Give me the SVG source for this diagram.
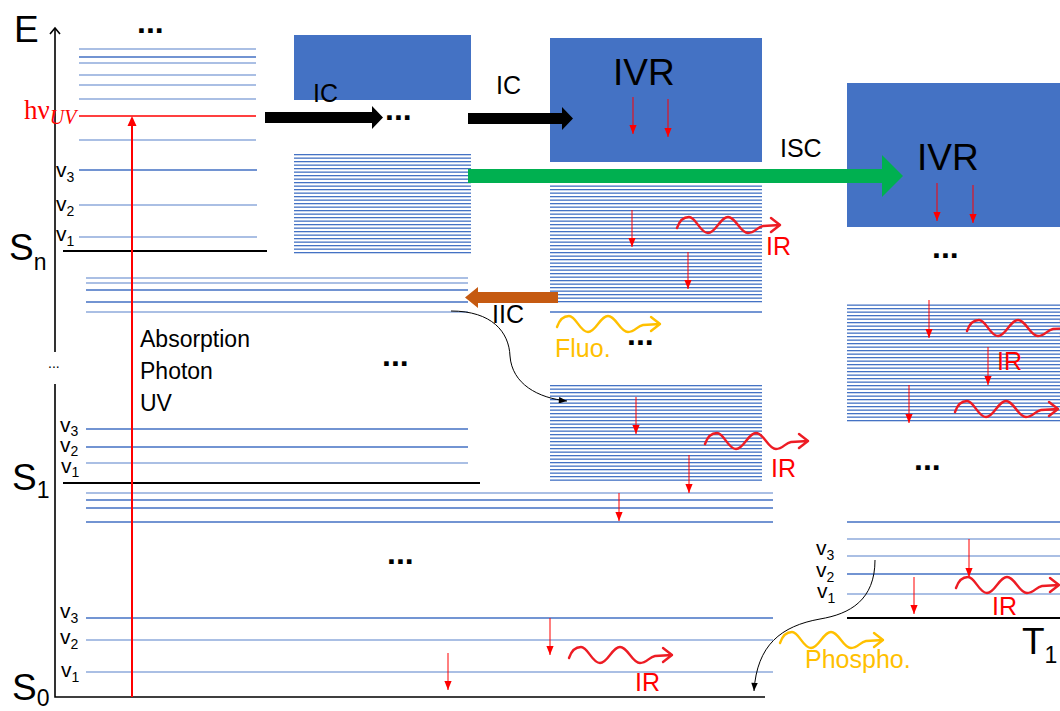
<svg xmlns="http://www.w3.org/2000/svg" xmlns:xlink="http://www.w3.org/1999/xlink" width="1060" height="711" viewBox="0 0 1060 711">
<defs>
<style>
text{font-family:"Liberation Sans",Arial,sans-serif;fill:#000}
.lv{stroke:#4472C4;stroke-width:1.3}
.ll{stroke:#8FAADC;stroke-width:1.6}
.gnd{stroke:#000;stroke-width:2}
.rd{stroke:#FF0000;stroke-width:1;marker-end:url(#ar)}
.box{fill:#4472C4}
.ir{stroke:#ED1C24;stroke-width:2.4;fill:none;stroke-linecap:round;stroke-linejoin:round}
.em{stroke:#FFC000;stroke-width:2.4;fill:none;stroke-linecap:round;stroke-linejoin:round}
.irt{fill:#FF0000;font-size:25px}
.emt{fill:#FFC000;font-size:25px}
.lab{font-size:25px}
.dots{font-size:32px;font-weight:bold}
.big{font-size:37px}
.sub{font-size:23px}
.v{font-size:21px}
.vs{font-size:14px}
.crv{stroke:#000;stroke-width:1;fill:none;marker-end:url(#ab)}
</style>
<pattern id="dense" patternUnits="userSpaceOnUse" width="40" height="7">
<rect x="0" y="0" width="40" height="1.3" fill="#4472C4"/>
<rect x="0" y="3.5" width="40" height="1.3" fill="#4472C4"/>
</pattern>
<marker id="ar" viewBox="0 0 10 8" refX="10" refY="4" markerWidth="9" markerHeight="7.2" markerUnits="userSpaceOnUse" orient="auto"><path d="M0,0L10,4L0,8z" fill="#FF0000"/></marker>
<marker id="ab" viewBox="0 0 10 8" refX="10" refY="4" markerWidth="9" markerHeight="6.5" markerUnits="userSpaceOnUse" orient="auto"><path d="M0,0L10,4L0,8z" fill="#000"/></marker>
<path id="wave" d="M0,3 C3,-6 8,-8 12,-8 C19,-8 23,8 31,8 C39,8 43,-8 51,-8 C59,-8 63,8 71,8 C78,8 80,2 86,1 L103,0 M94,-7 L103,0 L94,7"/>
</defs>

<g id="axis">
<path d="M55,28 V352 M55,384 V697 H765" stroke="#000" stroke-width="1.6" fill="none"/>
<path d="M50,34 L55,28 L60,34" stroke="#000" stroke-width="1.6" fill="none"/>
<text x="14" y="42" class="big">E</text>
<text x="48" y="368" style="font-size:14px">...</text>
</g>

<g id="Sn">
<path class="ll" d="M79,49H256M79,63H256M79,75H256M79,85H256M79,99H256M79,140H256M79,205H257M79,237H257"/>
<path class="lv" d="M79,57H256M79,170H257"/>
<line x1="79" y1="116" x2="256" y2="116" stroke="#FF0000" stroke-width="1.5"/>
<line class="gnd" x1="63" y1="251" x2="267" y2="251"/>
<text x="137" y="33" class="dots">...</text>
<text x="24" y="119" style="font-family:'Liberation Serif',serif;font-size:27px;fill:#FF0000">hν<tspan style="font-style:italic;font-size:20px" dy="5">UV</tspan></text>
<text x="56" y="177" class="v">v<tspan class="vs" dy="5">3</tspan></text>
<text x="56" y="211" class="v">v<tspan class="vs" dy="5">2</tspan></text>
<text x="56" y="241" class="v">v<tspan class="vs" dy="5">1</tspan></text>
<text x="9" y="260" class="big">S<tspan class="sub" dy="10">n</tspan></text>
</g>

<g id="box1">
<rect class="box" x="294" y="35" width="177" height="65"/>
<rect x="294" y="152" width="177" height="103" fill="url(#dense)"/>
<text x="313" y="102" class="lab">IC</text>
<text x="385" y="120" class="dots">...</text>
</g>

<g id="box2">
<rect class="box" x="550" y="38" width="212" height="124"/>
<rect x="550" y="185" width="212" height="119" fill="url(#dense)"/>
<line class="lv" x1="550" y1="312" x2="762" y2="312"/>
<text x="613" y="85" style="font-size:37px">IVR</text>
<text x="496" y="94" class="lab">IC</text>
<text x="766" y="255" class="irt">IR</text>
<text x="555" y="357" class="emt">Fluo.</text>
<text x="627" y="345" class="dots">...</text>
</g>

<g id="box3">
<rect class="box" x="847" y="83" width="213" height="144"/>
<rect x="847" y="303" width="213" height="120" fill="url(#dense)"/>
<text x="917" y="170" style="font-size:37px">IVR</text>
<text x="780" y="157" class="lab">ISC</text>
<text x="997" y="370" class="irt">IR</text>
<text x="932" y="258" class="dots">...</text>
<text x="914" y="470" class="dots">...</text>
</g>

<g id="S2">
<path class="ll" d="M86,278H468M86,283H468M86,312H468"/>
<path class="lv" d="M86,290H468M86,302H468"/>
<text x="140" y="347" style="font-size:23px">Absorption</text>
<text x="140" y="379" style="font-size:23px">Photon</text>
<text x="140" y="411" style="font-size:23px">UV</text>
<text x="382" y="366" class="dots">...</text>
<text x="492" y="323" class="lab">IIC</text>
</g>

<g id="box4">
<rect x="550" y="385" width="212" height="96" fill="url(#dense)"/>
<text x="771" y="477" class="irt">IR</text>
</g>

<g id="S1">
<path class="lv" d="M86,429H468M86,447H468M86,500H773M86,508H773M86,522H773"/>
<path class="ll" d="M86,463H468M86,493H773"/>
<line class="gnd" x1="63" y1="483" x2="480" y2="483"/>
<text x="60" y="432" class="v">v<tspan class="vs" dy="4">3</tspan></text>
<text x="60" y="452" class="v">v<tspan class="vs" dy="4">2</tspan></text>
<text x="61" y="473" class="v">v<tspan class="vs" dy="4">1</tspan></text>
<text x="12" y="490" class="big">S<tspan class="sub" dy="8">1</tspan></text>
<text x="387" y="564" class="dots">...</text>
</g>

<g id="S0">
<path class="lv" d="M86,618H773"/>
<path class="ll" d="M86,640H773M86,672H773"/>
<text x="60" y="618" class="v">v<tspan class="vs" dy="5">3</tspan></text>
<text x="60" y="644" class="v">v<tspan class="vs" dy="5">2</tspan></text>
<text x="61" y="677" class="v">v<tspan class="vs" dy="5">1</tspan></text>
<text x="12" y="700" class="big">S<tspan class="sub" dy="6">0</tspan></text>
<text x="635" y="691" class="irt">IR</text>
</g>

<g id="T1">
<path class="lv" d="M847,522H1060M847,574H1060"/>
<path class="ll" d="M847,539H1060M847,556H1060M847,594H1060"/>
<line class="gnd" x1="847" y1="618" x2="1060" y2="618"/>
<text x="816" y="555" class="v">v<tspan class="vs" dy="5">3</tspan></text>
<text x="816" y="577" class="v">v<tspan class="vs" dy="5">2</tspan></text>
<text x="817" y="598" class="v">v<tspan class="vs" dy="5">1</tspan></text>
<text x="1022" y="654" class="big">T<tspan class="sub" dy="9">1</tspan></text>
<text x="992" y="615" class="irt">IR</text>
<text x="805" y="668" class="emt">Phospho.</text>
</g>

<g id="connectors">
<line x1="132" y1="697" x2="132" y2="124" stroke="#FF0000" stroke-width="2"/>
<path d="M127.5,126 L132,116 L136.5,126z" fill="#FF0000"/>
<path d="M265,112H372V106L383,117.5L372,129V123H265z" fill="#000"/>
<path d="M468,113H562V107L573,118.5L562,130V124H468z" fill="#000"/>
<path d="M468,169H882V155L903,176L882,197V183H468z" fill="#00B050"/>
<path d="M558,292H478V287L465,297.5L478,308V303H558z" fill="#C55A11"/>
<path class="crv" d="M451,311 C492,311 509,332 510,356 C512,384 538,398 567,401"/>
<path class="crv" d="M875,560 C875,600 850,614 820,619 C781,626 757,645 754,691"/>
<line class="rd" x1="633" y1="97" x2="633" y2="134"/>
<line class="rd" x1="668" y1="99" x2="668" y2="137"/>
<line class="rd" x1="632" y1="210" x2="632" y2="247"/>
<line class="rd" x1="688" y1="252" x2="688" y2="289"/>
<line class="rd" x1="937" y1="183" x2="937" y2="221"/>
<line class="rd" x1="973" y1="185" x2="973" y2="223"/>
<line class="rd" x1="929" y1="300" x2="929" y2="338"/>
<line class="rd" x1="988" y1="347" x2="988" y2="385"/>
<line class="rd" x1="909" y1="385" x2="909" y2="423"/>
<line class="rd" x1="636" y1="397" x2="636" y2="434"/>
<line class="rd" x1="689" y1="455" x2="689" y2="493"/>
<line class="rd" x1="619" y1="493" x2="619" y2="521"/>
<line class="rd" x1="550" y1="618" x2="550" y2="655"/>
<line class="rd" x1="448" y1="653" x2="448" y2="690"/>
<line class="rd" x1="914" y1="577" x2="914" y2="614"/>
<line class="rd" x1="969" y1="539" x2="969" y2="577"/>
<use href="#wave" class="ir" transform="translate(677,225)"/>
<use href="#wave" class="ir" transform="translate(705,441)"/>
<use href="#wave" class="ir" transform="translate(569,655)"/>
<use href="#wave" class="ir" transform="translate(967,328)"/>
<use href="#wave" class="ir" transform="translate(955,409)"/>
<use href="#wave" class="ir" transform="translate(956,585)"/>
<use href="#wave" class="em" transform="translate(557,324)"/>
<use href="#wave" class="em" transform="translate(780,640)"/>
</g>
</svg>
